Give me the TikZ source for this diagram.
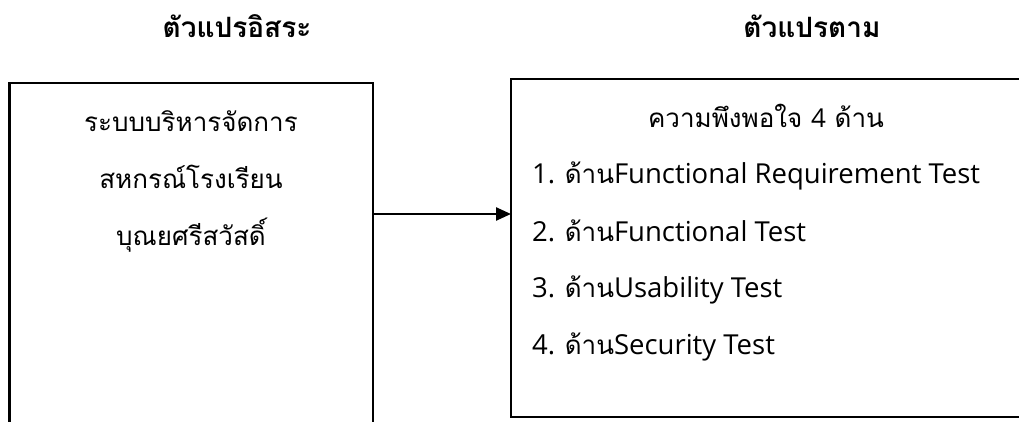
\documentclass[tikz,border=0pt]{standalone}
\usepackage{fontspec}
\newfontfamily\thaifont[Script=Thai]{Loma}
\newfontfamily\latinfont{Open Sans}
\usetikzlibrary{arrows.meta}
\begin{document}
\begin{tikzpicture}[x=1pt,y=1pt,
  box/.style={draw=black, line width=2.4pt, fill=none, inner sep=0pt, outer sep=0pt},
  title/.style={font=\fontsize{28}{32}\selectfont\thaifont\bfseries, anchor=base},
  ctext/.style={font=\fontsize{26}{30}\selectfont\thaifont, anchor=base},
  ltext/.style={font=\fontsize{27.5}{32}\selectfont\latinfont, anchor=base west, inner sep=0pt},
  conn/.style={line width=2.4pt, -{Triangle[length=15pt,width=13pt]}}]
\useasboundingbox (0,0) rectangle (1019,421);
\clip (0,0) rectangle (1019,421);
\fill[white] (0,0) rectangle (1019,421);
% titles
\node[title] (t1) at (237,383) {ตัวแปรอิสระ};
\node[title] (t2) at (812,383) {ตัวแปรตาม};
% boxes
\node[box, anchor=north west, minimum width=363.5pt, minimum height=380pt] (L) at (9.5,338) {};
\node[box, anchor=north west, minimum width=560pt, minimum height=338pt] (R) at (511,342) {};
% left text
\node[ctext] (l1) at (191,289) {ระบบบริหารจัดการ};
\node[ctext] (l2) at (191,233) {สหกรณ์โรงเรียน};
\node[ctext] (l3) at (191,176) {บุณยศรีสวัสดิ์};
% right text
\node[ctext] (h) at (766,293) {ความพึงพอใจ {\latinfont 4} ด้าน};
\node[ltext] (r1) at (532,237) {1. {\thaifont\fontsize{26}{30}\selectfont ด้าน}Functional Requirement Test};
\node[ltext] (r2) at (532,180) {2. {\thaifont\fontsize{26}{30}\selectfont ด้าน}Functional Test};
\node[ltext] (r3) at (532,124) {3. {\thaifont\fontsize{26}{30}\selectfont ด้าน}Usability Test};
\node[ltext] (r4) at (532,67) {4. {\thaifont\fontsize{26}{30}\selectfont ด้าน}Security Test};
% connector
\coordinate (ay) at (0,207);
\draw[conn] (L.east |- ay) -- (R.west |- ay);
\end{tikzpicture}
\end{document}
